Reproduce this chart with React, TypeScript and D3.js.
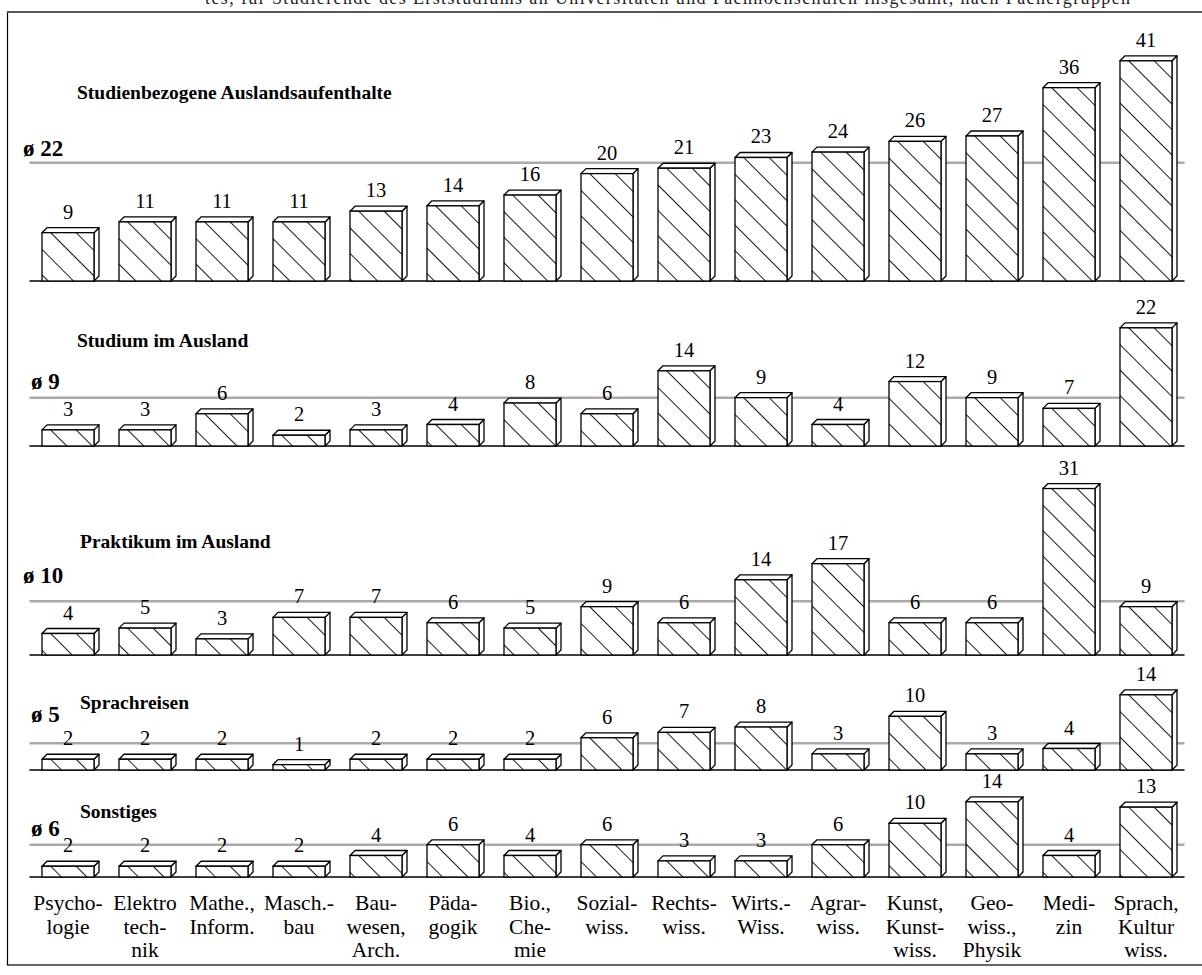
import React from "react";
import * as d3 from "d3";

const categories: string[][] = [
  ["Psycho-", "logie"],
  ["Elektro", "tech-", "nik"],
  ["Mathe.,", "Inform."],
  ["Masch.-", "bau"],
  ["Bau-", "wesen,", "Arch."],
  ["Päda-", "gogik"],
  ["Bio.,", "Che-", "mie"],
  ["Sozial-", "wiss."],
  ["Rechts-", "wiss."],
  ["Wirts.-", "Wiss."],
  ["Agrar-", "wiss."],
  ["Kunst,", "Kunst-", "wiss."],
  ["Geo-", "wiss.,", "Physik"],
  ["Medi-", "zin"],
  ["Sprach,", "Kultur", "wiss."],
];

const panelTitles = [
  "Studienbezogene Auslandsaufenthalte",
  "Studium im Ausland",
  "Praktikum im Ausland",
  "Sprachreisen",
  "Sonstiges",
];

const auslandsaufenthalte = [9, 11, 11, 11, 13, 14, 16, 20, 21, 23, 24, 26, 27, 36, 41];
const studium = [3, 3, 6, 2, 3, 4, 8, 6, 14, 9, 4, 12, 9, 7, 22];
const praktikum = [4, 5, 3, 7, 7, 6, 5, 9, 6, 14, 17, 6, 6, 31, 9];
const sprachreisen = [2, 2, 2, 1, 2, 2, 2, 6, 7, 8, 3, 10, 3, 4, 14];
const sonstiges = [2, 2, 2, 2, 4, 6, 4, 6, 3, 3, 6, 10, 14, 4, 13];
const averages = [22, 9, 10, 5, 6];

const topNote =
  "tes, für Studierende des Erststudiums an Universitäten und Fachhochschulen insgesamt, nach Fächergruppen";

// layout (positions, not data)
const W = 1202;
const H = 975;
const panelLayout = [
  { base: 281, titleY: 99, titleX: 77, avgLabelY: 156, avgLabelX: 23 },
  { base: 446, titleY: 347, titleX: 77, avgLabelY: 389, avgLabelX: 31 },
  { base: 655, titleY: 548, titleX: 80, avgLabelY: 583, avgLabelX: 23 },
  { base: 770, titleY: 709, titleX: 80, avgLabelY: 722, avgLabelX: 31 },
  { base: 877, titleY: 818, titleX: 80, avgLabelY: 836, avgLabelX: 31 },
];
const seriesList = [auslandsaufenthalte, studium, praktikum, sprachreisen, sonstiges];
const PX_PER_UNIT = 5.37;
const DX = 5;
const DY = 5;

const serif = "'Liberation Serif', 'Times New Roman', serif";

export default function App() {
  const x = d3
    .scaleBand<number>()
    .domain(d3.range(categories.length))
    .range([29.5, 29.5 + 77 * categories.length])
    .paddingInner(25 / 77)
    .paddingOuter(12.5 / 77);
  const bw = x.bandwidth();
  const h = d3.scaleLinear().domain([0, 1]).range([0, PX_PER_UNIT]);
  const [x0, x1] = x.range();

  return (
    <div style={{ position: "absolute", left: 0, top: 0 }}>
      <svg width={W} height={H} style={{ display: "block", background: "#fff" }}>
        <text x={205} y={4} fontFamily={serif} fontSize={18} fill="#222" textLength={925}>
          {topNote}
        </text>
        <rect x={7.5} y={12} width={1210} height={953} fill="none" stroke="#000" strokeWidth={1.2} />
        <line x1={7} x2={W} y1={12} y2={12} stroke="#555" strokeWidth={2} />
        {seriesList.map((values, p) => {
          const L = panelLayout[p];
          const yv = (v: number) => L.base - h(v);
          return (
            <g key={p}>
              <defs>
                {values.map((v, i) => (
                  <pattern
                    key={i}
                    id={`hatch-${p}-${i}`}
                    patternUnits="userSpaceOnUse"
                    width={18}
                    height={18}
                    patternTransform={`translate(${x(i)! + 8},${yv(v)}) rotate(-45)`}
                  >
                    <line x1={0} y1={-2} x2={0} y2={20} stroke="#000" strokeWidth={1.8} />
                  </pattern>
                ))}
              </defs>
              <text x={L.titleX} y={L.titleY} fontFamily={serif} fontSize={19.5} fontWeight="bold">
                {panelTitles[p]}
              </text>
              <line x1={x0} x2={x1} y1={yv(averages[p])} y2={yv(averages[p])} stroke="#aaaaaa" strokeWidth={2.5} />
              <text x={L.avgLabelX} y={L.avgLabelY} fontFamily={serif} fontSize={23} fontWeight="bold">
                {`ø ${averages[p]}`}
              </text>
              <line x1={x0} x2={x1} y1={L.base} y2={L.base} stroke="#000" strokeWidth={1.4} />
              {values.map((v, i) => {
                const bx = x(i)!;
                const top = yv(v);
                const r = bx + bw;
                const side = `M${r},${L.base}L${r + DX},${L.base - DY}L${r + DX},${top - DY}L${r},${top}Z`;
                const topFace = `M${bx},${top}L${bx + DX},${top - DY}L${r + DX},${top - DY}L${r},${top}Z`;
                return (
                  <g key={i}>
                    <path d={side} fill="#fff" stroke="#000" strokeWidth={1.3} strokeLinejoin="round" />
                    <path d={topFace} fill="#fff" stroke="#000" strokeWidth={1.3} strokeLinejoin="round" />
                    <rect x={bx} y={top} width={bw} height={L.base - top} fill="#fff" />
                    <rect x={bx} y={top} width={bw} height={L.base - top} fill={`url(#hatch-${p}-${i})`} stroke="#000" strokeWidth={1.3} />
                    <text
                      x={bx + bw / 2}
                      y={top - DY - 9}
                      textAnchor="middle"
                      fontFamily={serif}
                      fontSize={20.5}
                    >
                      {v}
                    </text>
                  </g>
                );
              })}
            </g>
          );
        })}
        {categories.map((lines, i) => (
          <text key={i} x={x(i)! + bw / 2} y={910} textAnchor="middle" fontFamily={serif} fontSize={21.5}>
            {lines.map((ln, j) => (
              <tspan key={j} x={x(i)! + bw / 2} y={910 + j * 23.5}>
                {ln}
              </tspan>
            ))}
          </text>
        ))}
      </svg>
    </div>
  );
}
